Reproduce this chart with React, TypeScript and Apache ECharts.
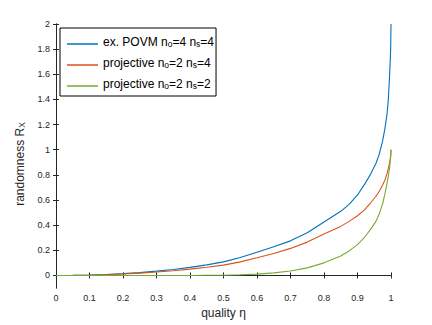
import React, { useEffect, useRef } from "react";
import * as echarts from "echarts";

const eta = [0, 0.05, 0.1, 0.15, 0.2, 0.25, 0.3, 0.35, 0.4, 0.45, 0.5, 0.55, 0.6, 0.65, 0.7, 0.75, 0.8, 0.85, 0.875, 0.9, 0.92, 0.94, 0.955, 0.965, 0.975, 0.982, 0.988, 0.992, 0.996, 0.999, 1];
const povm44 = [0, 0.001, 0.003, 0.007, 0.014, 0.022, 0.034, 0.047, 0.064, 0.084, 0.108, 0.142, 0.185, 0.228, 0.275, 0.34, 0.425, 0.51, 0.565, 0.64, 0.72, 0.81, 0.89, 0.965, 1.07, 1.17, 1.28, 1.4, 1.6, 1.8, 2.0];
const proj24 = [0, 0.0005, 0.002, 0.005, 0.011, 0.018, 0.027, 0.037, 0.05, 0.065, 0.082, 0.108, 0.14, 0.175, 0.215, 0.265, 0.33, 0.39, 0.43, 0.475, 0.52, 0.58, 0.63, 0.67, 0.72, 0.76, 0.81, 0.85, 0.9, 0.95, 1.0];
const proj22 = [0, 0, 0, 0, 0, 0, 0, 0, 0, 0.001, 0.002, 0.005, 0.01, 0.02, 0.035, 0.06, 0.1, 0.155, 0.195, 0.245, 0.3, 0.37, 0.43, 0.49, 0.57, 0.65, 0.73, 0.79, 0.86, 0.94, 1.0];

const seriesNames = ["ex. POVM n_o=4 n_s=4", "projective n_o=2 n_s=4", "projective n_o=2 n_s=2"];
const legendRich = [
  "{n|ex. POVM n}{sub|o}{n|=4 n}{sub|s}{n|=4}",
  "{n|projective n}{sub|o}{n|=2 n}{sub|s}{n|=4}",
  "{n|projective n}{sub|o}{n|=2 n}{sub|s}{n|=2}",
];
const colors = ["#0072BD", "#D95319", "#77AC30"];
const yTicks = [0, 0.2, 0.4, 0.6, 0.8, 1, 1.2, 1.4, 1.6, 1.8, 2];
const xLabel = "quality η";
const yLabel = "{n|randomness R}{sub|X}";

const FONT = "Liberation Sans, Arial, Helvetica, sans-serif";
const AX = "#262626";

export default function App() {
  const ref = useRef<HTMLDivElement>(null);
  useEffect(() => {
    if (!ref.current) return;
    const chart = echarts.init(ref.current, null, { renderer: "svg" });
    const seriesData = [povm44, proj24, proj22];
    const axisLine = { show: true, lineStyle: { color: AX, width: 1 } };
    const tick = { show: true, inside: true, length: 3, lineStyle: { color: AX, width: 1 } };
    chart.setOption({
      animation: false,
      backgroundColor: "#fff",
      textStyle: { fontFamily: FONT },
      grid: { left: 56, right: 41, top: 24, bottom: 37 },
      legend: {
        orient: "vertical",
        left: 60,
        top: 28,
        backgroundColor: "#fff",
        borderColor: "#000",
        borderWidth: 1,
        borderRadius: 0,
        padding: [5, 2, 6, 7],
        itemGap: 6,
        itemWidth: 31,
        itemHeight: 1.5,
        icon: "rect",
        data: seriesNames,
        formatter: (name: string) => legendRich[seriesNames.indexOf(name)],
        textStyle: {
          color: "#000",
          fontFamily: FONT,
          padding: [0, 0, 4, 0],
          rich: {
            n: { fontSize: 12, lineHeight: 12, verticalAlign: "top", fontFamily: FONT, color: "#000" },
            sub: { fontSize: 8.5, lineHeight: 8, padding: [6, 0, 0, 0], verticalAlign: "bottom", fontFamily: FONT, color: "#000" },
          },
        },
      },
      xAxis: [
        {
          type: "value",
          min: 0,
          max: 1,
          interval: 0.1,
          position: "bottom",
          axisLine,
          axisTick: tick,
          splitLine: { show: false },
          axisLabel: { fontSize: 9, color: AX, margin: 5, fontFamily: FONT },
          name: xLabel,
          nameLocation: "middle",
          nameGap: 12,
          nameTextStyle: { fontSize: 12, color: AX, fontFamily: FONT },
        },
        {
          type: "value",
          min: 0,
          max: 1,
          interval: 0.1,
          position: "top",
          axisLine,
          axisTick: tick,
          splitLine: { show: false },
          axisLabel: { show: false },
        },
      ],
      yAxis: [
        {
          type: "value",
          min: -0.1,
          max: 2,
          position: "left",
          axisLine,
          axisTick: { ...tick, customValues: yTicks },
          splitLine: { show: false },
          axisLabel: { fontSize: 9, color: AX, margin: 6, fontFamily: FONT, customValues: yTicks },
          name: yLabel,
          nameLocation: "middle",
          nameGap: 19,
          nameRotate: 90,
          nameTextStyle: {
            color: AX,
            padding: [0, 16, 0, 0],
            rich: {
              n: { fontSize: 12, lineHeight: 13, verticalAlign: "top", fontFamily: FONT, color: AX },
              sub: { fontSize: 8.5, lineHeight: 8, padding: [7, 0, 0, 0], verticalAlign: "bottom", fontFamily: FONT, color: AX },
            },
          },
        },
        {
          type: "value",
          min: -0.1,
          max: 2,
          position: "right",
          axisLine,
          axisTick: { ...tick, customValues: yTicks },
          splitLine: { show: false },
          axisLabel: { show: false, customValues: yTicks },
        },
      ],
      series: seriesNames.map((name, i) => ({
        name,
        type: "line",
        xAxisIndex: 0,
        yAxisIndex: 0,
        data: eta.map((x, j) => [x, seriesData[i][j]]),
        showSymbol: false,
        symbol: "none",
        smooth: false,
        lineStyle: { color: colors[i], width: 1.1 },
        itemStyle: { color: colors[i] },
        z: 2 + i,
      })),
    });
    return () => chart.dispose();
  }, []);
  return <div ref={ref} style={{ width: 432, height: 325, position: "absolute", left: 0, top: 0 }} />;
}
